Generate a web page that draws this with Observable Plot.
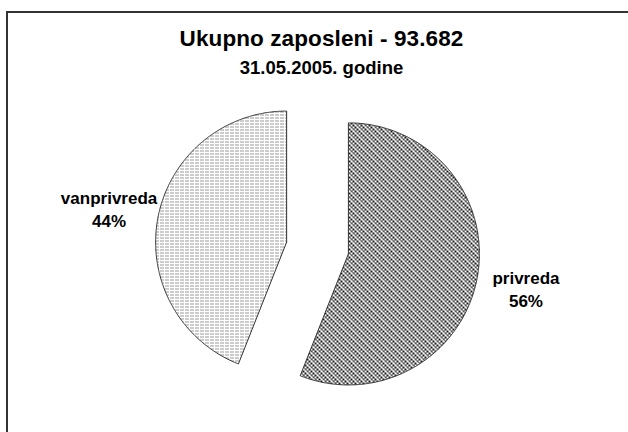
<!DOCTYPE html>
<html>
<head>
<meta charset="utf-8">
<script src="https://cdn.jsdelivr.net/npm/d3@7"></script>
<script src="https://cdn.jsdelivr.net/npm/@observablehq/plot@0.6"></script>
<style>
  html, body { margin: 0; padding: 0; background: #fff; }
  #wrap { position: relative; width: 628px; height: 432px; overflow: hidden; font-family: "Liberation Sans", Arial, sans-serif; }
  #frame { position: absolute; left: 6px; top: 11px; width: 700px; height: 500px; border-left: 2px solid #333; border-top: 2px solid #333; }
  #title { position: absolute; left: 0; width: 643px; top: 26px; text-align: center; font-weight: bold; font-size: 22.5px; letter-spacing: 0.1px; color: #000; }
  #subtitle { position: absolute; left: 0; width: 643px; top: 57px; text-align: center; font-weight: bold; font-size: 18.5px; color: #000; }
  #chart { position: absolute; left: 0; top: 0; }
</style>
</head>
<body>
<div id="wrap">
  <div id="frame"></div>
  <div id="chart"></div>
  <div id="title">Ukupno zaposleni - 93.682</div>
  <div id="subtitle">31.05.2005. godine</div>
</div>
<script>
const categories = ["privreda", "vanprivreda"];
const shares = [56, 44];
const patterns = ["pat-privreda", "pat-vanprivreda"];

const explode = 0.24;
const labelRadius = 1.62;

const pie = d3.pie().sort(null).value(d => d.share)(categories.map((c, i) => ({category: c, share: shares[i], pattern: patterns[i]})));

const polys = [];
const labels = [];
for (const s of pie) {
  const mid = (s.startAngle + s.endAngle) / 2;
  const dx = explode * Math.sin(mid), dy = explode * Math.cos(mid);
  const pts = [{category: s.data.category, x: dx, y: dy}];
  const n = Math.ceil((s.endAngle - s.startAngle) / (Math.PI / 360));
  for (let k = 0; k <= n; k++) {
    const a = s.startAngle + (s.endAngle - s.startAngle) * k / n;
    pts.push({category: s.data.category, x: dx + Math.sin(a), y: dy + Math.cos(a)});
  }
  pts.push({category: s.data.category, x: dx, y: dy});
  polys.push({category: s.data.category, pattern: s.data.pattern, pts});
  labels.push({x: labelRadius * Math.sin(mid), y: labelRadius * Math.cos(mid), text: `${s.data.category}\n${s.data.share}%`});
}

const plot = Plot.plot({
  width: 628,
  height: 432,
  margin: 0,
  x: {domain: [-2.42, 2.374], axis: null},
  y: {domain: [-1.408, 1.889], axis: null},
  marks: [
    ...polys.map(p => Plot.line(p.pts, {x: "x", y: "y", fill: `url(#${p.pattern})`, stroke: "#333", strokeWidth: 1, strokeLinejoin: "miter"})),
    Plot.text(labels, {x: "x", y: "y", text: "text", fontSize: 17, fontWeight: "bold", lineHeight: 1.38, fill: "#000", fontFamily: "Liberation Sans, Arial, sans-serif"})
  ]
});
plot.style.background = "transparent";

// patterns
const ns = "http://www.w3.org/2000/svg";
const defs = document.createElementNS(ns, "defs");
function makePattern(id, w, h, fn, color) {
  const p = document.createElementNS(ns, "pattern");
  p.setAttribute("id", id);
  p.setAttribute("patternUnits", "userSpaceOnUse");
  p.setAttribute("width", w);
  p.setAttribute("height", h);
  const bg = document.createElementNS(ns, "rect");
  bg.setAttribute("width", w); bg.setAttribute("height", h); bg.setAttribute("fill", "#fff");
  p.appendChild(bg);
  for (let y = 0; y < h; y++) for (let x = 0; x < w; x++) {
    if (fn(x, y)) {
      const r = document.createElementNS(ns, "rect");
      r.setAttribute("x", x); r.setAttribute("y", y);
      r.setAttribute("width", 1); r.setAttribute("height", 1);
      r.setAttribute("fill", color);
      r.setAttribute("shape-rendering", "crispEdges");
      p.appendChild(r);
    }
  }
  defs.appendChild(p);
}
// privreda: diagonal checkered bands
makePattern("pat-privreda", 8, 8, (x, y) => {
  const d = ((x - y) % 8 + 8) % 8;
  if (d >= 6) return false;
  return (Math.floor(x / 2) + Math.floor(y / 2)) % 2 === 0;
}, "#1a1a1a");
// vanprivreda: dotted rows of dot pairs
makePattern("pat-vanprivreda", 5, 3, (x, y) => (y === 0 && (x === 0 || x === 2)), "#333");
plot.insertBefore(defs, plot.firstChild);

document.getElementById("chart").appendChild(plot);
</script>
</body>
</html>
